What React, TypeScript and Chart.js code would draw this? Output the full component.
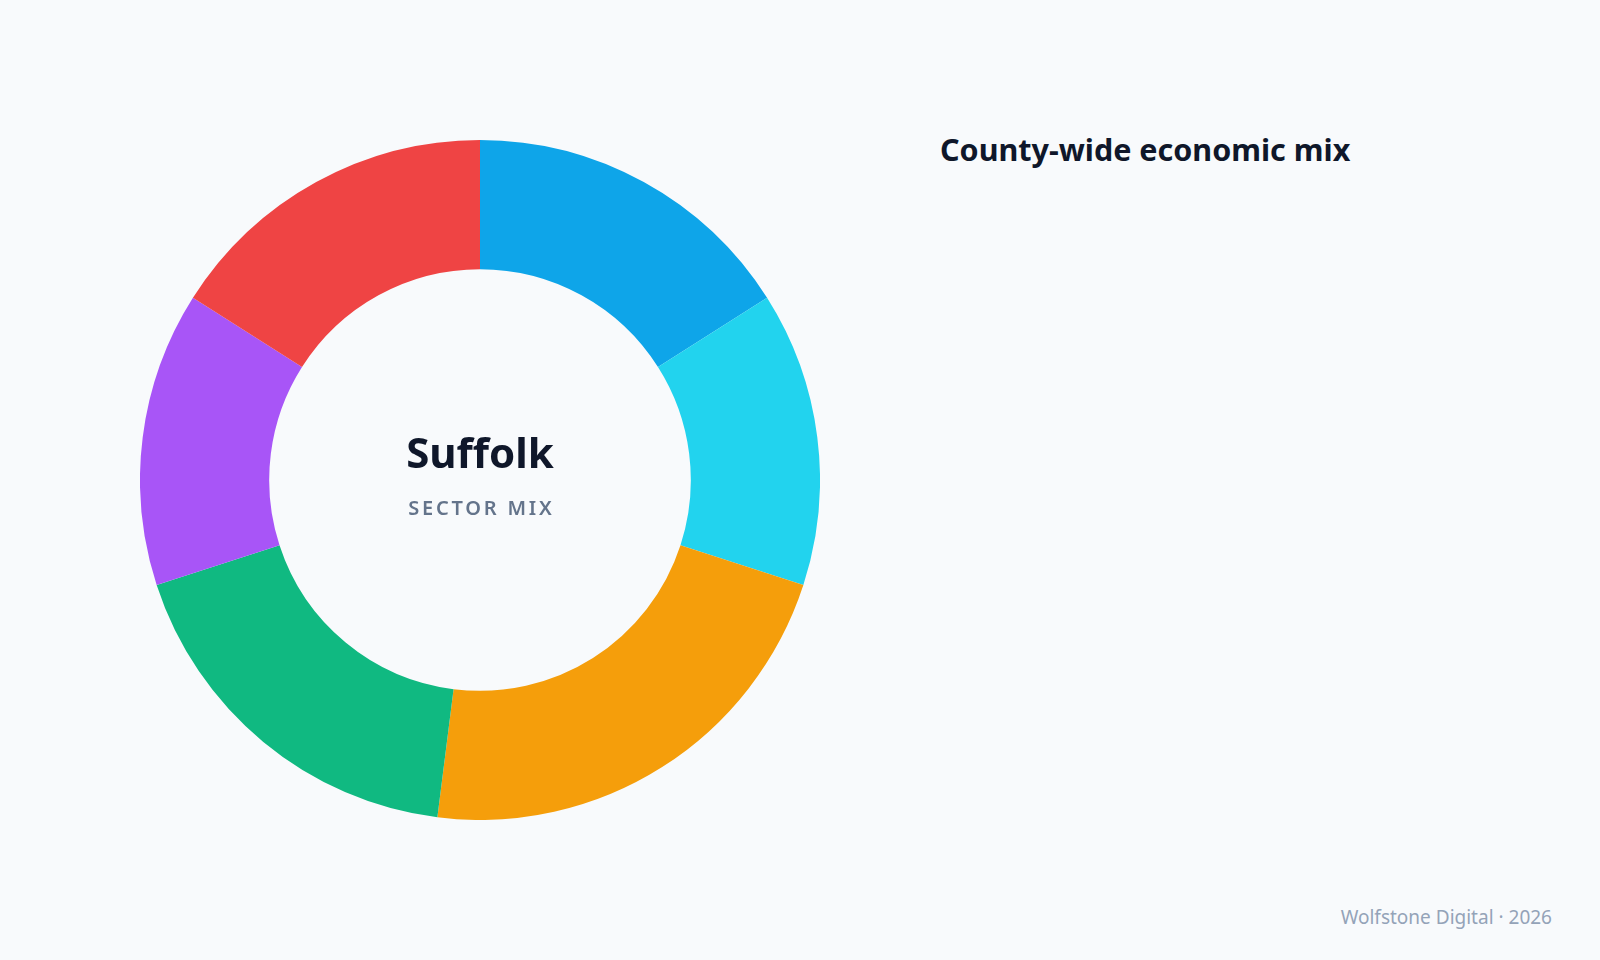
import { useEffect, useRef } from "react";
import Chart, { ChartConfiguration } from "chart.js/auto";

const sectors = ["Services", "Tourism", "Manufacturing", "Agriculture", "Logistics", "Public sector"];
const shares = [16, 14, 22, 18, 14, 16];
const colors = ["#0EA5E9", "#22D3EE", "#F59E0B", "#10B981", "#A855F7", "#EF4444"];

const FONT = "'Noto Sans', 'Open Sans', sans-serif";

const App: React.FC = () => {
  const chartRef = useRef<HTMLCanvasElement>(null);
  const chartInstance = useRef<Chart | null>(null);

  useEffect(() => {
    if (chartRef.current) {
      const ctx = chartRef.current.getContext("2d");
      if (ctx) {
        if (chartInstance.current) {
          chartInstance.current.destroy();
        }
        const chartConfig: ChartConfiguration = {
          type: "doughnut",
          data: {
            labels: sectors,
            datasets: [
              {
                data: shares,
                backgroundColor: colors,
                borderWidth: 0,
              },
            ],
          },
          options: {
            animation: false,
            responsive: true,
            maintainAspectRatio: false,
            cutout: "62%",
            layout: { padding: 0 },
            plugins: {
              legend: { display: false },
              tooltip: { enabled: false },
            },
          },
        };
        chartInstance.current = new Chart(ctx, chartConfig);
      }
    }
    return () => {
      if (chartInstance.current) {
        chartInstance.current.destroy();
        chartInstance.current = null;
      }
    };
  }, []);

  return (
    <div
      style={{
        position: "fixed",
        inset: 0,
        width: 1600,
        height: 960,
        background: "#F8FAFC",
        fontFamily: FONT,
        overflow: "hidden",
      }}
    >
      <div style={{ position: "absolute", left: 140, top: 140, width: 680, height: 680 }}>
        <canvas ref={chartRef} />
      </div>
      <div
        style={{
          position: "absolute",
          left: 280,
          width: 400,
          top: 431,
          textAlign: "center",
          fontSize: 42,
          lineHeight: 1,
          fontWeight: 700,
          color: "#0F172A",
        }}
      >
        Suffolk
      </div>
      <div
        style={{
          position: "absolute",
          left: 280,
          width: 400,
          top: 498,
          textAlign: "center",
          fontSize: 20,
          lineHeight: 1,
          fontWeight: 600,
          letterSpacing: 2.8,
          paddingLeft: 2.8,
          boxSizing: "border-box",
          color: "#64748B",
        }}
      >
        SECTOR MIX
      </div>
      <div
        style={{
          position: "absolute",
          left: 940,
          top: 134,
          fontSize: 30.5,
          lineHeight: 1,
          fontWeight: 700,
          color: "#0F172A",
        }}
      >
        County-wide economic mix
      </div>
      <div
        style={{
          position: "absolute",
          right: 48,
          top: 908,
          fontSize: 19,
          lineHeight: 1,
          color: "#94A3B8",
        }}
      >
        Wolfstone Digital · 2026
      </div>
    </div>
  );
};

export default App;
